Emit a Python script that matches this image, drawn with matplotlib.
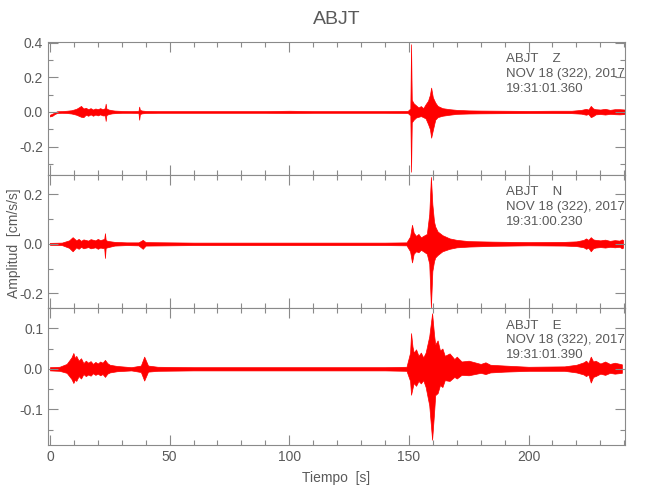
import matplotlib
matplotlib.use("Agg")
import matplotlib.pyplot as plt
from matplotlib.ticker import MultipleLocator, FuncFormatter

plt.rcParams['font.family'] = ['Liberation Sans', 'DejaVu Sans']
plt.rcParams['axes.unicode_minus'] = False

title = "ABJT"
station = "ABJT"
components = ["Z", "N", "E"]
start_times = ["19:31:01.360", "19:31:00.230", "19:31:01.390"]
date_str = "NOV 18 (322), 2017"
xlabel = "Tiempo  [s]"
ylabel = "Amplitud  [cm/s/s]"

# Envelope knots (time [s], upper, lower)
t_z = [0.0, 1.0, 2.0, 3.0, 5, 7, 9, 11, 12, 13, 14, 15, 16, 17, 18, 19, 20, 21, 22, 23.0, 23.3, 23.6, 24.5,
       26, 27, 30, 34, 37, 37.3, 37.6, 38.5, 40, 45, 60, 75, 90, 100, 110, 125, 140, 149.5, 150.6, 150.9,
       151.2, 152, 153, 154, 155, 156, 157, 158, 158.8, 159.3, 160, 161, 162, 164, 167, 170, 175, 180,
       190, 200, 210, 218, 222, 224, 225, 226, 227, 228, 230, 232, 234, 236, 238, 240.3]
up_z = [-0.016, -0.010, -0.003, 0.004, 0.005, 0.007, 0.010, 0.018, 0.026, 0.035, 0.020, 0.024, 0.016,
        0.022, 0.014, 0.020, 0.016, 0.022, 0.016, 0.022, 0.048, 0.020, 0.014, 0.010, 0.008, 0.006, 0.005,
        0.006, 0.031, 0.012, 0.008, 0.006, 0.005, 0.005, 0.005, 0.005, 0.007, 0.005, 0.005, 0.005, 0.006,
        0.020, 0.392, 0.070, 0.050, 0.038, 0.026, 0.034, 0.022, 0.045, 0.065, 0.100, 0.141, 0.085, 0.055,
        0.035, 0.022, 0.016, 0.012, 0.009, 0.008, 0.007, 0.006, 0.007, 0.007, 0.012, 0.018, 0.014, 0.035,
        0.020, 0.016, 0.014, 0.018, 0.012, 0.016, 0.016, 0.014]
lo_z = [-0.026, -0.022, -0.012, -0.006, -0.005, -0.006, -0.009, -0.016, -0.022, -0.028, -0.030, -0.016,
        -0.022, -0.014, -0.022, -0.015, -0.020, -0.014, -0.020, -0.020, -0.052, -0.018, -0.012, -0.008,
        -0.007, -0.005, -0.005, -0.006, -0.045, -0.012, -0.008, -0.006, -0.005, -0.005, -0.005, -0.005,
        -0.006, -0.005, -0.005, -0.005, -0.006, -0.020, -0.346, -0.060, -0.045, -0.032, -0.028, -0.024,
        -0.030, -0.038, -0.070, -0.100, -0.149, -0.105, -0.045, -0.030, -0.022, -0.016, -0.011, -0.009,
        -0.008, -0.007, -0.006, -0.006, -0.007, -0.010, -0.016, -0.012, -0.030, -0.024, -0.014, -0.012,
        -0.015, -0.011, -0.013, -0.014, -0.012]

t_n = [0.0, 5, 8, 9.5, 11, 12, 13, 14, 16, 17, 19, 20, 21, 22.7, 23.0, 23.3, 24, 27, 32, 37, 38.8, 40,
       60, 80, 100, 120, 140, 149, 150.5, 151.3, 152, 153, 154, 155, 156, 157.5, 158.5, 159.2, 159.8,
       160.5, 161, 162, 164, 167, 170, 175, 185, 200, 215, 220, 223, 224, 225, 226, 227, 228, 230, 232,
       234, 236, 238, 239, 239.5]
up_n = [0.004, 0.005, 0.014, 0.027, 0.014, 0.020, 0.012, 0.018, 0.013, 0.019, 0.014, 0.020, 0.015, 0.020,
        0.043, 0.016, 0.012, 0.008, 0.006, 0.006, 0.016, 0.007, 0.005, 0.005, 0.005, 0.005, 0.005, 0.006,
        0.030, 0.077, 0.045, 0.032, 0.040, 0.026, 0.032, 0.040, 0.120, 0.270, 0.160, 0.090, 0.070, 0.050,
        0.035, 0.022, 0.016, 0.011, 0.009, 0.007, 0.008, 0.010, 0.016, 0.022, 0.016, 0.027, 0.018, 0.016,
        0.014, 0.017, 0.012, 0.015, 0.013, 0.018, 0.015]
lo_n = [-0.004, -0.005, -0.016, -0.030, -0.014, -0.020, -0.012, -0.018, -0.013, -0.018, -0.014, -0.020,
        -0.015, -0.018, -0.057, -0.016, -0.014, -0.007, -0.005, -0.006, -0.020, -0.007, -0.005, -0.005,
        -0.005, -0.005, -0.005, -0.006, -0.030, -0.075, -0.040, -0.030, -0.034, -0.024, -0.030, -0.040,
        -0.080, -0.257, -0.110, -0.070, -0.055, -0.045, -0.030, -0.020, -0.014, -0.011, -0.008, -0.006,
        -0.007, -0.009, -0.014, -0.020, -0.016, -0.030, -0.018, -0.015, -0.013, -0.015, -0.012, -0.014,
        -0.012, -0.018, -0.015]

t_e = [0.0, 4, 7, 9, 9.8, 10.5, 11, 12, 13, 14, 15, 16, 17, 18, 19, 20, 21, 22, 23, 24, 25, 28, 34, 38,
       39.4, 41, 45, 60, 80, 100, 120, 140, 149, 150.5, 150.9, 151.5, 152, 153, 154, 155, 156, 157, 158.5,
       159.7, 160.5, 161, 162, 163, 164, 165, 167, 169, 170, 172, 175, 180, 182, 184, 190, 200, 215, 220,
       223, 224, 225, 226, 227, 228, 230, 232, 234, 236, 239]
up_e = [0.004, 0.005, 0.012, 0.028, 0.039, 0.026, 0.032, 0.020, 0.026, 0.014, 0.020, 0.015, 0.019, 0.012,
        0.017, 0.013, 0.018, 0.015, 0.022, 0.014, 0.010, 0.007, 0.004, 0.008, 0.030, 0.008, 0.005, 0.004,
        0.004, 0.004, 0.004, 0.004, 0.005, 0.040, 0.088, 0.055, 0.040, 0.048, 0.032, 0.040, 0.028, 0.040,
        0.080, 0.137, 0.085, 0.060, 0.070, 0.045, 0.050, 0.032, 0.038, 0.024, 0.030, 0.018, 0.020, 0.012,
        0.016, 0.010, 0.008, 0.005, 0.006, 0.010, 0.016, 0.020, 0.014, 0.030, 0.018, 0.020, 0.013, 0.018,
        0.012, 0.015, 0.011]
lo_e = [-0.004, -0.005, -0.010, -0.025, -0.035, -0.026, -0.030, -0.018, -0.024, -0.013, -0.018, -0.014,
        -0.017, -0.011, -0.015, -0.012, -0.016, -0.013, -0.020, -0.012, -0.009, -0.006, -0.004, -0.008,
        -0.029, -0.007, -0.005, -0.004, -0.004, -0.004, -0.004, -0.004, -0.005, -0.030, -0.064, -0.048,
        -0.035, -0.042, -0.030, -0.036, -0.028, -0.045, -0.090, -0.175, -0.110, -0.065, -0.060, -0.040,
        -0.045, -0.028, -0.030, -0.020, -0.024, -0.015, -0.016, -0.010, -0.013, -0.009, -0.007, -0.005,
        -0.005, -0.009, -0.014, -0.018, -0.014, -0.034, -0.020, -0.018, -0.012, -0.015, -0.010, -0.012,
        -0.010]

traces = [(t_z, up_z, lo_z), (t_n, up_n, lo_n), (t_e, up_e, lo_e)]
ylims = [(-0.365, 0.405), (-0.259, 0.278), (-0.188, 0.150)]
ymajor = [0.2, 0.2, 0.1]
yminor = [0.1, 0.1, 0.05]
xlim = (-0.8, 240.3)

gray = "#8a8a8a"
txt = "#5a5a5a"

fig = plt.figure(figsize=(6.5, 5.0), dpi=100)
left, width = 48 / 650, 577 / 650
tops = [42, 175, 308]
bots = [175, 308, 445]
axes = []
for i in range(3):
    ax = fig.add_axes([left, 1 - bots[i] / 500, width, (bots[i] - tops[i]) / 500])
    axes.append(ax)
    t, up, lo = traces[i]
    ax.fill_between(t, lo, up, color="red", linewidth=0.5, edgecolor="red")
    ax.set_xlim(*xlim)
    ax.set_ylim(*ylims[i])
    ax.xaxis.set_major_locator(MultipleLocator(50))
    ax.xaxis.set_minor_locator(MultipleLocator(10))
    ax.yaxis.set_major_locator(MultipleLocator(ymajor[i]))
    ax.yaxis.set_minor_locator(MultipleLocator(yminor[i]))
    ax.tick_params(which="both", direction="in", top=True, right=True, colors=gray,
                   labelcolor=txt, labelsize=10, width=0.8)
    ax.tick_params(which="major", length=7)
    ax.tick_params(which="minor", length=3.5)
    for s in ax.spines.values():
        s.set_color(gray)
        s.set_linewidth(0.8)
    if i < 2:
        ax.tick_params(labelbottom=False)
    ax.yaxis.set_major_formatter(FuncFormatter(
        lambda v, p: ("%.1f" % v if abs(v) > 1e-9 else "0.0")))
    ax.text(0.794, 0.915, f"{station}    {components[i]}\n{date_str}\n{start_times[i]}",
            transform=ax.transAxes, ha="left", va="top", fontsize=9.5, color=txt,
            linespacing=1.3)

axes[2].xaxis.set_major_formatter(FuncFormatter(lambda v, p: "%d" % v))
axes[2].set_xlabel(xlabel, color=txt, fontsize=10, labelpad=5)
fig.text(0.022, 1 - 243 / 500, ylabel, rotation=90, ha="center", va="center", color=txt, fontsize=10)
fig.text((48 + 625) / 2 / 650, 1 - 20 / 500, title, ha="center", va="center", color=txt, fontsize=14)

fig.savefig("out.png", dpi=100)
